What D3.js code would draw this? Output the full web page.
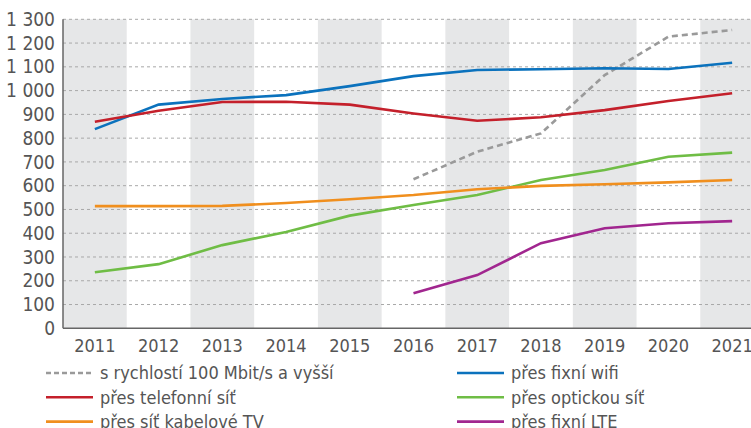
<!DOCTYPE html>
<html>
<head>
<meta charset="utf-8">
<script src="https://cdn.jsdelivr.net/npm/d3@7.9.0/dist/d3.min.js"></script>
<style>
  body { margin: 0; background: #fff; }
  svg { display: block; font-family: 'Liberation Sans Narrow', 'DejaVu Sans Condensed', sans-serif; }
</style>
</head>
<body>
<svg id="chart" width="751" height="428"></svg>
<script>
// data
const years = ['2011','2012','2013','2014','2015','2016','2017','2018','2019','2020','2021'];
const yTicks = [0,100,200,300,400,500,600,700,800,900,1000,1100,1200,1300];

const speed100 = [null,null,null,null,null,627,743,820,1065,1227,1255];
const wifi     = [838,941,965,981,1019,1061,1087,1090,1094,1091,1117];
const phone    = [869,915,952,953,941,904,873,888,918,956,989];
const optical  = [236,270,350,405,474,519,561,624,666,722,739];
const cable    = [514,514,515,527,543,561,585,599,606,614,624];
const lte      = [null,null,null,null,null,147,224,358,421,442,451];

const series = [
  { name: 's rychlostí 100 Mbit/s a vyšší', values: speed100, color: '#9a9a9a', dash: '6,4' },
  { name: 'přes fixní wifi', values: wifi, color: '#0b72bd' },
  { name: 'přes telefonní síť', values: phone, color: '#c4202b' },
  { name: 'přes optickou síť', values: optical, color: '#6fbd45' },
  { name: 'přes síť kabelové TV', values: cable, color: '#f08f1e' },
  { name: 'přes fixní LTE', values: lte, color: '#a1268f' }
];

const svg = d3.select('#chart');
const plotL = 63, plotR = 764, plotT = 19.3, plotB = 328.3;

const x = d3.scaleBand().domain(years).range([plotL, plotR]).padding(0);
const y = d3.scaleLinear().domain([0, 1300]).range([plotB, plotT]);

// alternating grey bands
svg.append('g')
  .selectAll('rect')
  .data(years.filter((d, i) => i % 2 === 0))
  .join('rect')
  .attr('x', d => x(d))
  .attr('y', plotT)
  .attr('width', x.bandwidth())
  .attr('height', plotB - plotT)
  .attr('fill', '#e6e7e8');

// dotted grid
svg.append('g')
  .selectAll('line')
  .data(yTicks.filter(d => d > 0))
  .join('line')
  .attr('x1', plotL)
  .attr('x2', 751)
  .attr('y1', d => y(d))
  .attr('y2', d => y(d))
  .attr('stroke', '#a8a8a8')
  .attr('stroke-width', 1)
  .attr('stroke-dasharray', '3,3');

// y tick labels
svg.append('g')
  .selectAll('text')
  .data(yTicks)
  .join('text')
  .attr('x', 55)
  .attr('y', d => y(d))
  .attr('dy', '0.35em')
  .attr('text-anchor', 'end')
  .attr('font-size', 19)
  .attr('fill', '#555')
  .text(d => d >= 1000 ? '1 ' + String(d % 1000).padStart(3, '0') : d);

// x tick labels
svg.append('g')
  .selectAll('text')
  .data(years)
  .join('text')
  .attr('x', d => x(d) + x.bandwidth() / 2)
  .attr('y', 352)
  .attr('text-anchor', 'middle')
  .attr('font-size', 18)
  .attr('fill', '#555')
  .text(d => d);

// axes lines
svg.append('line')
  .attr('x1', plotL).attr('x2', plotL)
  .attr('y1', plotT).attr('y2', plotB)
  .attr('stroke', '#666').attr('stroke-width', 1.5);
svg.append('line')
  .attr('x1', plotL).attr('x2', 751)
  .attr('y1', plotB).attr('y2', plotB)
  .attr('stroke', '#666').attr('stroke-width', 1.5);

// lines
const line = d3.line()
  .defined(d => d != null)
  .x((d, i) => x(years[i]) + x.bandwidth() / 2)
  .y(d => y(d));

svg.append('g')
  .selectAll('path')
  .data(series)
  .join('path')
  .attr('d', d => line(d.values))
  .attr('fill', 'none')
  .attr('stroke', d => d.color)
  .attr('stroke-width', 2.6)
  .attr('stroke-dasharray', d => d.dash || null);

// legend, two columns
const legend = svg.append('g');
series.forEach((s, i) => {
  const col = i % 2, row = Math.floor(i / 2);
  const lx = col === 0 ? 46 : 457;
  const ly = 373 + row * 24.3;
  legend.append('line')
    .attr('x1', lx).attr('x2', lx + 47)
    .attr('y1', ly).attr('y2', ly)
    .attr('stroke', s.color)
    .attr('stroke-width', 2.6)
    .attr('stroke-dasharray', s.dash ? '5,3' : null);
  legend.append('text')
    .attr('x', lx + 54)
    .attr('y', ly)
    .attr('dy', '0.35em')
    .attr('font-size', 18)
    .attr('fill', '#555')
    .text(s.name);
});
</script>
</body>
</html>
